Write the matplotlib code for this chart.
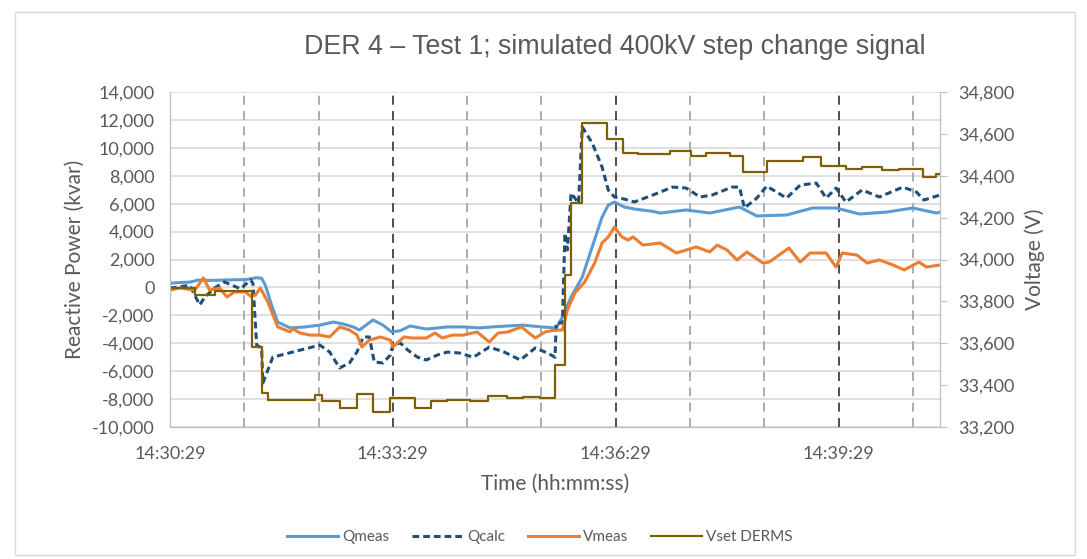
import matplotlib.pyplot as plt
from matplotlib.patches import Rectangle

# seconds after 14:30:29
t_qmeas = [0, 8, 16, 23, 32, 40, 52, 61, 67, 70, 74, 77, 82, 87, 97, 109, 121, 132, 139, 148,
           153, 164, 172, 179, 186, 194, 207, 224, 237, 250, 265, 273, 285, 300, 312, 317, 324,
           333, 341, 349, 354, 359, 367, 375, 390, 396, 417, 436, 460, 474, 498, 519, 538, 557,
           579, 600, 619, 622]
qmeas = [300, 350, 380, 530, 500, 520, 550, 560, 650, 700, 650, 170, -1260, -2480, -2900, -2830,
         -2700, -2480, -2600, -2830, -3050, -2330, -2700, -3190, -3100, -2760, -2980, -2830, -2830,
         -2900, -2800, -2760, -2700, -2830, -2900, -2120, -690, 740, 2900, 5040, 5900, 6120, 5760,
         5620, 5450, 5330, 5550, 5330, 5760, 5120, 5190, 5690, 5690, 5260, 5400, 5690, 5330, 5400]

t_qcalc = [0, 16, 24, 28, 36, 44, 57, 65, 67, 70, 74, 75, 83, 99, 115, 121, 129, 137, 145, 151,
           156, 161, 165, 172, 178, 180, 186, 192, 200, 207, 216, 224, 234, 245, 258, 270, 283,
           295, 305, 311, 312, 317, 319, 321, 324, 327, 330, 333, 341, 349, 354, 359, 367, 375,
           390, 406, 417, 428, 438, 454, 460, 464, 474, 482, 498, 509, 522, 530, 538, 546, 559,
           573, 592, 603, 609, 622]
qcalc = [-50, 150, -1260, -700, -40, 390, -100, 530, 300, -4130, -4340, -6850, -5000, -4630,
         -4270, -4130, -4630, -5770, -5410, -4630, -3550, -3550, -5340, -5410, -4840, -4130, -3980,
         -4480, -5000, -5200, -4840, -4630, -4700, -5000, -4270, -4630, -5200, -4340, -4700, -5000,
         -2550, -2550, 3900, 2680, 6760, 6400, 6040, 11500, 10350, 8630, 6980, 6480, 6330, 6120,
         6620, 7190, 7120, 6480, 6620, 7190, 7190, 5690, 6400, 7260, 6400, 7330, 7480, 6400, 7120,
         6120, 6980, 6480, 7190, 6830, 6260, 6620]

t_vmeas = [0, 8, 20, 27, 32, 40, 46, 52, 61, 65, 69, 73, 79, 87, 97, 99, 105, 113, 121, 129, 137,
           145, 151, 155, 161, 170, 178, 180, 189, 196, 207, 214, 220, 228, 237, 248, 258, 265,
           273, 284, 295, 303, 311, 317, 321, 327, 335, 343, 349, 354, 359, 365, 370, 374, 382,
           396, 409, 425, 436, 442, 450, 458, 466, 479, 484, 500, 509, 517, 530, 538, 543, 555,
           563, 573, 584, 593, 605, 611, 622]
vmeas = [33854, 33864, 33854, 33912, 33854, 33864, 33821, 33845, 33845, 33825, 33830, 33864, 33797,
         33678, 33654, 33670, 33649, 33639, 33639, 33630, 33678, 33663, 33640, 33582, 33615, 33630,
         33615, 33582, 33630, 33625, 33625, 33649, 33625, 33639, 33639, 33654, 33606, 33649, 33654,
         33678, 33625, 33654, 33663, 33663, 33759, 33840, 33893, 33983, 34079, 34108, 34155, 34108,
         34093, 34108, 34069, 34079, 34031, 34060, 34036, 34069, 34045, 33998, 34036, 33983, 33988,
         34055, 33988, 34031, 34031, 33964, 34031, 34021, 33983, 33998, 33974, 33950, 33988, 33964,
         33974]

t_vset = [0, 20, 36, 66, 74, 79, 117, 123, 137, 151, 164, 178, 198, 211, 224, 242, 257, 272, 285,
          299, 311, 319, 324, 333, 353, 366, 378, 404, 421, 433, 452, 463, 482, 511, 526, 546, 559,
          575, 589, 608, 619, 622]
vset = [33864, 33832, 33850, 33582, 33362, 33330, 33353, 33326, 33293, 33360, 33274, 33338, 33291,
        33324, 33329, 33324, 33348, 33338, 33343, 33338, 33496, 33926, 34270, 34652, 34576, 34511,
        34504, 34518, 34494, 34509, 34494, 34418, 34470, 34490, 34447, 34432, 34442, 34427, 34432,
        34394, 34408, 34408]

major_t = [0, 180, 360, 540]
major_lab = ["14:30:29", "14:33:29", "14:36:29", "14:39:29"]
minor_t = [60, 120, 240, 300, 420, 480, 600]

grey = "#595959"
fig = plt.figure(figsize=(10.87, 5.59), dpi=100)
fig.patches.append(Rectangle((0.014, 0.007), 0.975, 0.972, transform=fig.transFigure,
                             fill=False, ec="#D9D9D9", lw=1))
ax1 = fig.add_axes([0.1564, 0.2361, 0.7084, 0.5993])
ax2 = ax1.twinx()

for t in minor_t:
    ax1.axvline(t, color="#A6A6A6", lw=1.3, ls=(0, (5, 3.5)), zorder=1)
for t in major_t[1:]:
    ax1.axvline(t, color="#404040", lw=1.3, ls=(0, (5, 3.5)), zorder=1)

ax1.plot(t_qmeas, qmeas, color="#5B9BD5", lw=2.2, label="Qmeas", zorder=3)
ax1.plot(t_qcalc, qcalc, color="#1F4E79", lw=2.2, ls=(0, (2.2, 1.3)), label="Qcalc", zorder=3)
ax2.plot(t_vmeas, vmeas, color="#ED7D31", lw=2.2, label="Vmeas")
ax2.step(t_vset, vset, where="post", color="#7F6000", lw=1.6, label="Vset DERMS")

ax1.set_xlim(0, 622)
ax1.set_ylim(-10000, 14000)
ax2.set_ylim(33200, 34800)
ax1.set_yticks(range(-10000, 14001, 2000))
ax2.set_yticks(range(33200, 34801, 200))
ax1.yaxis.set_major_formatter(lambda v, p: f"{v:,.0f}")
ax2.yaxis.set_major_formatter(lambda v, p: f"{v:,.0f}")
ax1.set_xticks(major_t, major_lab)
ax1.grid(axis="y", color="#D9D9D9", lw=1.2)
ax1.set_axisbelow(True)

for ax in (ax1, ax2):
    ax.tick_params(labelsize=13, colors=grey, labelfontfamily="Lato")
    ax.spines["top"].set_visible(False)
    for s in ("left", "right", "bottom"):
        ax.spines[s].set_color("#BFBFBF")
ax1.tick_params(axis="y", length=0, pad=11)
ax1.tick_params(axis="x", length=0, pad=14)
ax2.tick_params(axis="y", length=5, color="#BFBFBF", pad=8)

ax1.set_ylabel("Reactive Power (kvar)", fontsize=15, color=grey, family="Lato", labelpad=5)
ax2.set_ylabel("Voltage (V)", fontsize=15, color=grey, family="Lato", labelpad=7)
ax1.set_xlabel("Time (hh:mm:ss)", fontsize=15, color=grey, family="Lato", labelpad=8)
fig.text(0.566, 0.916, "DER 4 \u2013 Test 1; simulated 400kV step change signal", ha="center",
         va="center", fontsize=19.3, color=grey, family="Liberation Sans")

h1, l1 = ax1.get_legend_handles_labels()
h2, l2 = ax2.get_legend_handles_labels()
fig.legend(h1 + h2, l1 + l2, loc="center", bbox_to_anchor=(0.497, 0.039), ncol=4, frameon=False,
           handlelength=3.3, handletextpad=0.3, columnspacing=1.5,
           prop={"family": "Lato", "size": 11}, labelcolor=grey)

fig.savefig("out.png", dpi=100)
